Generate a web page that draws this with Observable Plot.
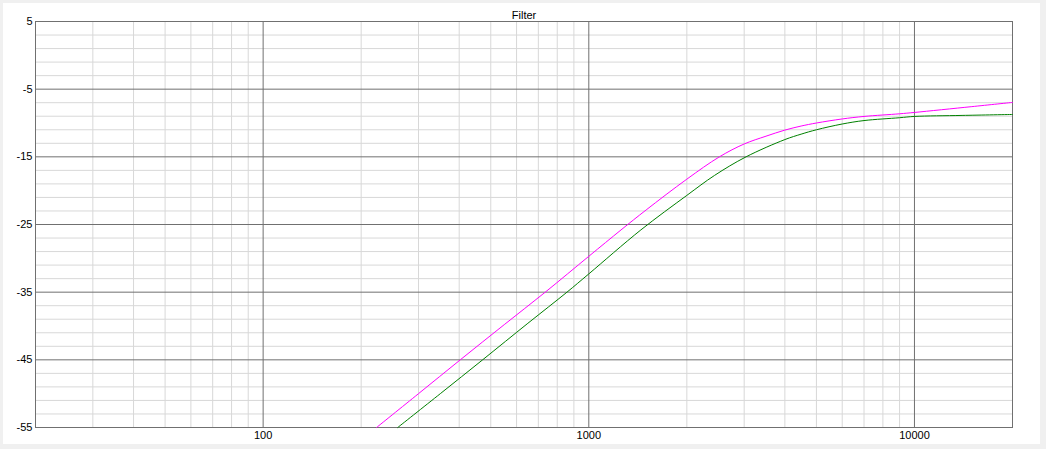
<!DOCTYPE html>
<html>
<head>
<meta charset="utf-8">
<script src="https://cdn.jsdelivr.net/npm/d3@7"></script>
<script src="https://cdn.jsdelivr.net/npm/@observablehq/plot@0.6"></script>
<style>
html, body { margin: 0; padding: 0; background: #f0f0f0; width: 1046px; height: 449px; overflow: hidden; }
#panel { position: absolute; left: 3px; top: 3px; width: 1037px; height: 441px; background: #ffffff; }
</style>
</head>
<body>
<div id="panel"></div>
<script>
const title = "Filter";

// Magenta series (frequency in Hz, level in dB)
const magentaFreq = [223, 300, 403, 550, 735, 1000, 1256, 1500, 2000, 2518, 3000, 3500, 4000, 4487, 5000, 6000, 7000, 9000, 10000, 15000, 20000];
const magentaDb   = [-55, -50.0, -45, -39.8, -35, -29.7, -25.8, -22.85, -18.3, -15, -13.1, -11.95, -11.05, -10.45, -10.0, -9.4, -9.03, -8.64, -8.44, -7.58, -6.96];

// Green series
const greenFreq = [259, 350, 472, 650, 857, 1000, 1445, 2000, 2432, 3040, 4000, 4487, 5000, 6000, 7000, 9000, 10000, 14000, 20000];
const greenDb   = [-55, -50, -45, -39.6, -35, -32.3, -25.8, -20.7, -17.75, -15, -12.45, -11.65, -11.0, -10.15, -9.64, -9.22, -9.03, -8.88, -8.74];

// Axis ticks / grid
const xMajorTicks = [100, 1000, 10000];
const xMinorTicks = [30, 40, 50, 60, 70, 80, 90, 200, 300, 400, 500, 600, 700, 800, 900,
                     2000, 3000, 4000, 5000, 6000, 7000, 8000, 9000];
const yMajorTicks = [5, -5, -15, -25, -35, -45, -55];
const yMinorTicks = [3, 1, -1, -3, -7, -9, -11, -13, -17, -19, -21, -23, -27, -29, -31, -33,
                     -37, -39, -41, -43, -47, -49, -51, -53];

const magenta = magentaFreq.map((f, i) => ({f, db: magentaDb[i]}));
const green = greenFreq.map((f, i) => ({f, db: greenDb[i]}));

const majorColor = "#707070";
const minorColor = "#d8d8d8";

const chart = Plot.plot({
  width: 1037,
  height: 441,
  marginLeft: 32,
  marginRight: 28,
  marginTop: 18,
  marginBottom: 17,
  style: {fontFamily: "'Liberation Sans', Arial, sans-serif", fontSize: "11px", color: "#000", background: "#ffffff", overflow: "visible"},
  x: {type: "log", domain: [20, 20000]},
  y: {domain: [-55, 5]},
  marks: [
    Plot.ruleX(xMinorTicks, {stroke: minorColor}),
    Plot.ruleY(yMinorTicks, {stroke: minorColor}),
    Plot.ruleX(xMajorTicks, {stroke: majorColor}),
    Plot.ruleY(yMajorTicks, {stroke: majorColor}),
    Plot.frame({stroke: majorColor}),
    Plot.axisX(xMajorTicks, {tickSize: 0, tickPadding: 4, tickFormat: d => String(d), label: null, fill: "#000"}),
    Plot.axisY(yMajorTicks, {tickSize: 0, tickPadding: 3, tickFormat: d => String(d), label: null, fill: "#000"}),
    Plot.line(green, {x: "f", y: "db", stroke: "#008000", strokeWidth: 1, curve: "catmull-rom"}),
    Plot.line(magenta, {x: "f", y: "db", stroke: "#ff00ff", strokeWidth: 1, curve: "catmull-rom"}),
    Plot.text([title], {frameAnchor: "top", text: d => d, lineAnchor: "bottom", dy: -3, fill: "#000", fontSize: 11})
  ]
});

document.getElementById("panel").appendChild(chart);
</script>
</body>
</html>
